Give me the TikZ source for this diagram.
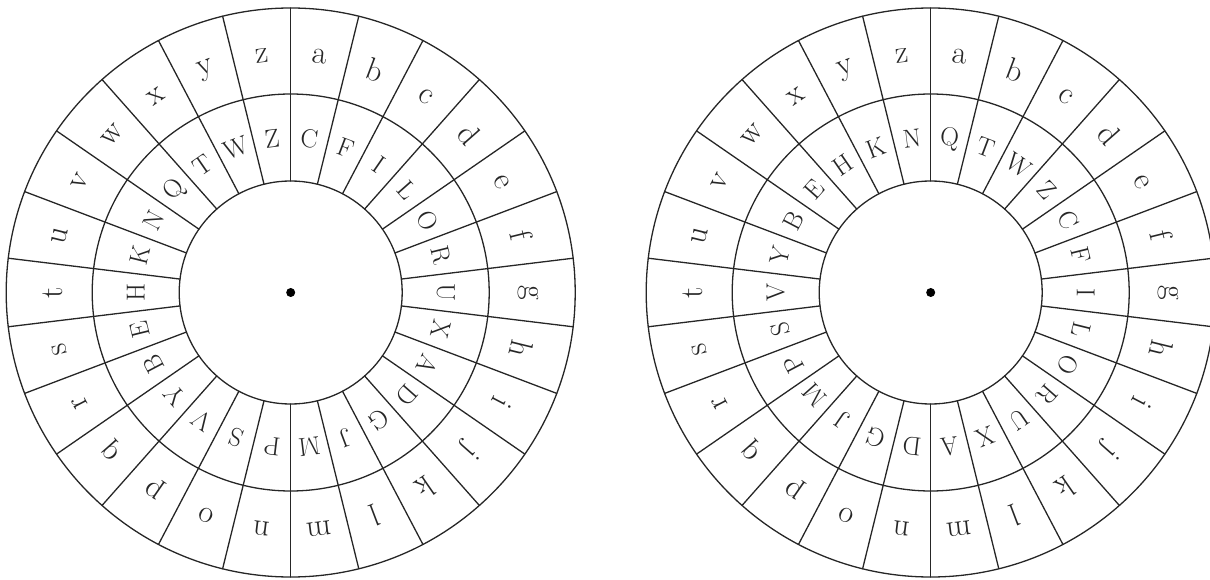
\documentclass[tikz,border=0pt]{standalone}
\usetikzlibrary{positioning}
\tikzset{
  ringline/.style={draw=black!85,line width=1.3pt},
  smallletter/.style={font=\fontsize{32}{32}\selectfont,inner sep=0pt,text=black!85},
  capletter/.style={font=\fontsize{26}{26}\selectfont,inner sep=0pt,text=black!85},
  every picture/.style={line cap=round,line join=round}
}

\begin{document}
\begin{tikzpicture}[x=1pt,y=1pt]
  \useasboundingbox (0,0) rectangle (1210,579);
  % two wheels, same outer ring, shifted inner ring
  \foreach \cx/\tag/\caps in {290.7/L/{C,F,I,L,O,R,U,X,A,D,G,J,M,P,S,V,Y,B,E,H,K,N,Q,T,W,Z},
                              930.7/R/{Q,T,W,Z,C,F,I,L,O,R,U,X,A,D,G,J,M,P,S,V,Y,B,E,H,K,N}} {
    \coordinate (\tag-hub) at (\cx,286.5);
    \draw[ringline] (\tag-hub) circle[radius=284.5];
    \draw[ringline] (\tag-hub) circle[radius=198.5];
    \draw[ringline] (\tag-hub) circle[radius=111.5];
    \fill[black] (\tag-hub) circle[radius=4.5];
    \foreach \k in {0,...,25} {
      \pgfmathsetmacro\ang{90-\k*360/26}
      \draw[ringline] ([shift={(\ang:111.5)}]\tag-hub) -- ([shift={(\ang:284.5)}]\tag-hub);
    }
    \foreach \l [count=\i from 0] in {a,...,z} {
      \pgfmathsetmacro\ang{90-(\i+0.5)*360/26}
      \node[smallletter,rotate=\ang-90] (\tag-out-\l) at ([shift={(\ang:238)}]\tag-hub) {\l};
    }
    \foreach \u [count=\i from 0] in \caps {
      \pgfmathsetmacro\ang{90-(\i+0.5)*360/26}
      \node[capletter,rotate=\ang-90] (\tag-in-\i) at ([shift={(\ang:155)}]\tag-hub) {\u};
    }
  }
\end{tikzpicture}
\end{document}
